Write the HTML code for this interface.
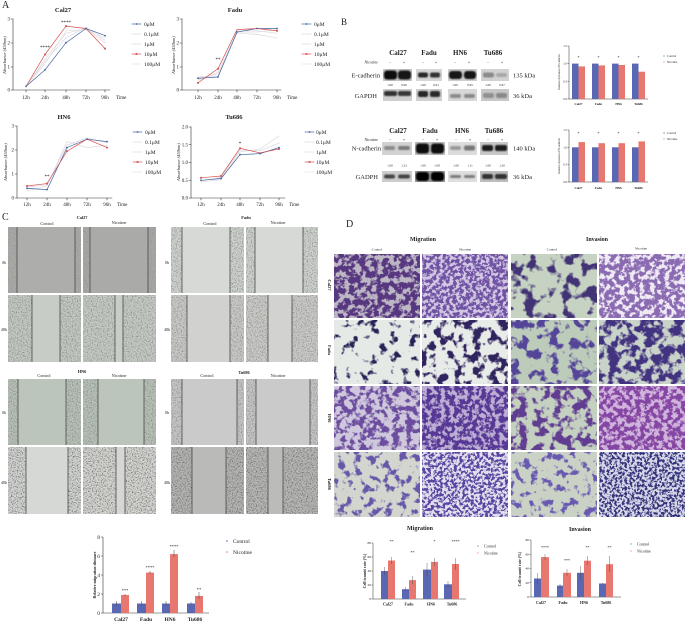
<!DOCTYPE html>
<html><head><meta charset="utf-8"><style>
html,body{margin:0;padding:0;background:#fff;}
svg{display:block;}
text{font-family:"Liberation Serif",serif;fill:#222;}
.b{font-weight:bold;}
</style></head><body>
<svg width="685" height="622" viewBox="0 0 685 622" xmlns="http://www.w3.org/2000/svg">
<defs>
<filter id="blur" x="-20%" y="-60%" width="140%" height="220%"><feGaussianBlur stdDeviation="0.7"/></filter>
<filter id="sp" x="0" y="0" width="1" height="1" color-interpolation-filters="sRGB">
 <feTurbulence type="fractalNoise" baseFrequency="0.8" numOctaves="1" seed="4"/>
 <feColorMatrix type="matrix" values="0 0 0 0 0.42 0 0 0 0 0.43 0 0 0 0 0.42 2 0 0 0 -0.9"/>
</filter>
<filter id="sp2" x="0" y="0" width="1" height="1" color-interpolation-filters="sRGB">
 <feTurbulence type="fractalNoise" baseFrequency="0.8" numOctaves="1" seed="7"/>
 <feColorMatrix type="matrix" values="0 0 0 0 0.38 0 0 0 0 0.39 0 0 0 0 0.38 3 0 0 0 -1.4"/>
</filter>
<filter id="d11" x="0" y="0" width="1" height="1" color-interpolation-filters="sRGB"><feTurbulence type="fractalNoise" baseFrequency="0.18" numOctaves="3" seed="11"/><feColorMatrix type="matrix" values="0 0 0 0 0.34 0 0 0 0 0.22 0 0 0 0 0.5 8 0 0 0 -3.28"/></filter>
<filter id="d12" x="0" y="0" width="1" height="1" color-interpolation-filters="sRGB"><feTurbulence type="fractalNoise" baseFrequency="0.3" numOctaves="3" seed="12"/><feColorMatrix type="matrix" values="0 0 0 0 0.44 0 0 0 0 0.32 0 0 0 0 0.64 8 0 0 0 -3.36"/></filter>
<filter id="d13" x="0" y="0" width="1" height="1" color-interpolation-filters="sRGB"><feTurbulence type="fractalNoise" baseFrequency="0.08" numOctaves="3" seed="13"/><feColorMatrix type="matrix" values="0 0 0 0 0.26 0 0 0 0 0.2 0 0 0 0 0.46 8 0 0 0 -4.16"/></filter>
<filter id="d14" x="0" y="0" width="1" height="1" color-interpolation-filters="sRGB"><feTurbulence type="fractalNoise" baseFrequency="0.2" numOctaves="3" seed="14"/><feColorMatrix type="matrix" values="0 0 0 0 0.54 0 0 0 0 0.42 0 0 0 0 0.7 8 0 0 0 -3.2"/></filter>
<filter id="d21" x="0" y="0" width="1" height="1" color-interpolation-filters="sRGB"><feTurbulence type="fractalNoise" baseFrequency="0.1" numOctaves="3" seed="21"/><feColorMatrix type="matrix" values="0 0 0 0 0.15 0 0 0 0 0.14 0 0 0 0 0.34 8 0 0 0 -4.64"/></filter>
<filter id="d22" x="0" y="0" width="1" height="1" color-interpolation-filters="sRGB"><feTurbulence type="fractalNoise" baseFrequency="0.11" numOctaves="3" seed="22"/><feColorMatrix type="matrix" values="0 0 0 0 0.19 0 0 0 0 0.14 0 0 0 0 0.37 8 0 0 0 -4.0"/></filter>
<filter id="d23" x="0" y="0" width="1" height="1" color-interpolation-filters="sRGB"><feTurbulence type="fractalNoise" baseFrequency="0.1" numOctaves="3" seed="23"/><feColorMatrix type="matrix" values="0 0 0 0 0.33 0 0 0 0 0.27 0 0 0 0 0.6 8 0 0 0 -4.16"/></filter>
<filter id="d24" x="0" y="0" width="1" height="1" color-interpolation-filters="sRGB"><feTurbulence type="fractalNoise" baseFrequency="0.11" numOctaves="3" seed="24"/><feColorMatrix type="matrix" values="0 0 0 0 0.26 0 0 0 0 0.2 0 0 0 0 0.5 8 0 0 0 -3.52"/></filter>
<filter id="d31" x="0" y="0" width="1" height="1" color-interpolation-filters="sRGB"><feTurbulence type="fractalNoise" baseFrequency="0.15" numOctaves="3" seed="31"/><feColorMatrix type="matrix" values="0 0 0 0 0.42 0 0 0 0 0.3 0 0 0 0 0.62 8 0 0 0 -3.68"/></filter>
<filter id="d32" x="0" y="0" width="1" height="1" color-interpolation-filters="sRGB"><feTurbulence type="fractalNoise" baseFrequency="0.22" numOctaves="3" seed="32"/><feColorMatrix type="matrix" values="0 0 0 0 0.34 0 0 0 0 0.22 0 0 0 0 0.58 8 0 0 0 -3.36"/></filter>
<filter id="d33" x="0" y="0" width="1" height="1" color-interpolation-filters="sRGB"><feTurbulence type="fractalNoise" baseFrequency="0.11" numOctaves="3" seed="33"/><feColorMatrix type="matrix" values="0 0 0 0 0.38 0 0 0 0 0.24 0 0 0 0 0.57 8 0 0 0 -3.84"/></filter>
<filter id="d34" x="0" y="0" width="1" height="1" color-interpolation-filters="sRGB"><feTurbulence type="fractalNoise" baseFrequency="0.22" numOctaves="3" seed="34"/><feColorMatrix type="matrix" values="0 0 0 0 0.52 0 0 0 0 0.27 0 0 0 0 0.64 8 0 0 0 -3.36"/></filter>
<filter id="d41" x="0" y="0" width="1" height="1" color-interpolation-filters="sRGB"><feTurbulence type="fractalNoise" baseFrequency="0.13" numOctaves="3" seed="41"/><feColorMatrix type="matrix" values="0 0 0 0 0.4 0 0 0 0 0.34 0 0 0 0 0.66 8 0 0 0 -4.32"/></filter>
<filter id="d42" x="0" y="0" width="1" height="1" color-interpolation-filters="sRGB"><feTurbulence type="fractalNoise" baseFrequency="0.35" numOctaves="3" seed="42"/><feColorMatrix type="matrix" values="0 0 0 0 0.34 0 0 0 0 0.27 0 0 0 0 0.63 8 0 0 0 -3.6"/></filter>
<filter id="d43" x="0" y="0" width="1" height="1" color-interpolation-filters="sRGB"><feTurbulence type="fractalNoise" baseFrequency="0.13" numOctaves="3" seed="43"/><feColorMatrix type="matrix" values="0 0 0 0 0.41 0 0 0 0 0.35 0 0 0 0 0.69 8 0 0 0 -4.4"/></filter>
<filter id="d44" x="0" y="0" width="1" height="1" color-interpolation-filters="sRGB"><feTurbulence type="fractalNoise" baseFrequency="0.4" numOctaves="3" seed="44"/><feColorMatrix type="matrix" values="0 0 0 0 0.2 0 0 0 0 0.2 0 0 0 0 0.48 8 0 0 0 -3.68"/></filter>
</defs>

<!-- ================= PANEL A ================= -->
<text x="2" y="8" font-size="10">A</text>
<g font-size="5" stroke-linecap="square">
<!-- Cal27 -->
<text x="63" y="12" class="b" font-size="6.5" text-anchor="middle">Cal27</text>
<g stroke="#333" stroke-width="0.6" fill="none">
<path d="M13 19V90H110"/><path d="M11 19H13M11 43H13M11 67H13M11 90H13"/>
<path d="M26 90V92M45 90V92M66 90V92M86 90V92M105 90V92"/>
</g>
<g text-anchor="end"><text x="10" y="20.7">3</text><text x="10" y="44.7">2</text><text x="10" y="68.7">1</text><text x="10" y="91.7">0</text></g>
<g text-anchor="middle"><text x="26" y="99">12h</text><text x="45" y="99">24h</text><text x="66" y="99">48h</text><text x="86" y="99">72h</text><text x="105" y="99">96h</text></g>
<text x="116" y="99">Time</text>
<text transform="translate(6,55) rotate(-90)" text-anchor="middle" font-size="4.5" font-style="italic">Absorbance (450nm)</text>
<g fill="none" stroke-width="0.7">
<polyline points="26,86.4 45,61.6 66,37.9 86,27.3 105,40.3" stroke="#d6dae8"/>
<polyline points="26,86.4 45,59.2 66,33.2 86,28.5 105,42.7" stroke="#dcdcdc"/>
<polyline points="26,86.4 45,64 66,30.8 86,29.6 105,37.9" stroke="#ecdede"/>
<polyline points="26,86.4 45,69.9 66,42.7 86,28.5 105,35.6" stroke="#44649f"/>
<polyline points="26,86.4 45,54.5 66,26.1 86,28.5 105,48.6" stroke="#d6514f"/>
</g>
<g fill="#44649f"><circle cx="26" cy="86.4" r="0.9"/><circle cx="45" cy="69.9" r="0.9"/><circle cx="66" cy="42.7" r="0.9"/><circle cx="86" cy="28.5" r="0.9"/><circle cx="105" cy="35.6" r="0.9"/></g>
<g fill="#d6514f"><rect x="44.1" y="53.6" width="1.8" height="1.8"/><rect x="65.1" y="25.2" width="1.8" height="1.8"/><rect x="104.1" y="47.7" width="1.8" height="1.8"/></g>
<text x="45" y="49" text-anchor="middle" font-size="5">****</text>
<text x="66" y="24" text-anchor="middle" font-size="5">****</text>
<g stroke-width="0.7"><path d="M132 24H141" stroke="#44649f"/><path d="M132 34H141" stroke="#d6dae8"/><path d="M132 44H141" stroke="#dcdcdc"/><path d="M132 54H141" stroke="#d6514f"/><path d="M132 64H141" stroke="#ecdede"/></g>
<circle cx="136.5" cy="24" r="0.9" fill="#44649f"/><rect x="135.6" y="53.1" width="1.8" height="1.8" fill="#d6514f"/>
<g font-size="5.5"><text x="144" y="25.8">0μM</text><text x="144" y="35.8">0.1μM</text><text x="144" y="45.8">1μM</text><text x="144" y="55.8">10μM</text><text x="144" y="65.8">100μM</text></g>

<!-- Fadu -->
<text x="235" y="12" class="b" font-size="6.5" text-anchor="middle">Fadu</text>
<g stroke="#333" stroke-width="0.6" fill="none">
<path d="M182 19V90H281"/><path d="M180 19H182M180 43H182M180 67H182M180 90H182"/>
<path d="M198 90V92M218 90V92M237 90V92M257 90V92M277 90V92"/>
</g>
<g text-anchor="end"><text x="179" y="20.7">3</text><text x="179" y="44.7">2</text><text x="179" y="68.7">1</text><text x="179" y="91.7">0</text></g>
<g text-anchor="middle"><text x="198" y="99">12h</text><text x="218" y="99">24h</text><text x="237" y="99">48h</text><text x="257" y="99">72h</text><text x="277" y="99">96h</text></g>
<text x="287" y="99">Time</text>
<text transform="translate(175,55) rotate(-90)" text-anchor="middle" font-size="4.5" font-style="italic">Absorbance (450nm)</text>
<g fill="none" stroke-width="0.7">
<polyline points="198,79.3 218,73.4 237,33.2 257,34.4 277,37.9" stroke="#dcdcdc"/>
<polyline points="198,77 218,75.8 237,30.8 257,30.8 277,33.2" stroke="#d6dae8"/>
<polyline points="198,80.5 218,72.2 237,32 257,32 277,29.6" stroke="#ecdede"/>
<polyline points="198,78.2 218,77 237,32 257,28.5 277,28.5" stroke="#44649f"/>
<polyline points="198,82.9 218,68.7 237,29.6 257,28.5 277,30.8" stroke="#d6514f"/>
</g>
<g fill="#44649f"><circle cx="198" cy="78.2" r="0.9"/><circle cx="218" cy="77" r="0.9"/><circle cx="237" cy="32" r="0.9"/><circle cx="257" cy="28.5" r="0.9"/><circle cx="277" cy="28.5" r="0.9"/></g>
<g fill="#d6514f"><rect x="197.1" y="82" width="1.8" height="1.8"/><rect x="217.1" y="67.8" width="1.8" height="1.8"/><rect x="276.1" y="29.9" width="1.8" height="1.8"/></g>
<text x="218" y="61" text-anchor="middle">**</text>
<g stroke-width="0.7"><path d="M302 24H311" stroke="#44649f"/><path d="M302 34H311" stroke="#d6dae8"/><path d="M302 44H311" stroke="#dcdcdc"/><path d="M302 54H311" stroke="#d6514f"/><path d="M302 64H311" stroke="#ecdede"/></g>
<circle cx="306.5" cy="24" r="0.9" fill="#44649f"/><rect x="305.6" y="53.1" width="1.8" height="1.8" fill="#d6514f"/>
<g font-size="5.5"><text x="314" y="25.8">0μM</text><text x="314" y="35.8">0.1μM</text><text x="314" y="45.8">1μM</text><text x="314" y="55.8">10μM</text><text x="314" y="65.8">100μM</text></g>

<!-- HN6 -->
<text x="64" y="119" class="b" font-size="6.5" text-anchor="middle">HN6</text>
<g stroke="#333" stroke-width="0.6" fill="none">
<path d="M17 126V198H112"/><path d="M15 126H17M15 150H17M15 174H17M15 198H17"/>
<path d="M27 198V200M47 198V200M67 198V200M87 198V200M107 198V200"/>
</g>
<g text-anchor="end"><text x="14" y="127.7">3</text><text x="14" y="151.7">2</text><text x="14" y="175.7">1</text><text x="14" y="199.7">0</text></g>
<g text-anchor="middle"><text x="27" y="206">12h</text><text x="47" y="206">24h</text><text x="67" y="206">48h</text><text x="87" y="206">72h</text><text x="107" y="206">96h</text></g>
<text x="117" y="206">Time</text>
<text transform="translate(7,162) rotate(-90)" text-anchor="middle" font-size="4.5" font-style="italic">Absorbance (450nm)</text>
<g fill="none" stroke-width="0.7">
<polyline points="27,190.8 47,186 67,141.6 87,147.6 107,145.2" stroke="#dcdcdc"/>
<polyline points="27,187.2 47,184.8 67,145.2 87,138 107,142.8" stroke="#d6dae8"/>
<polyline points="27,188.4 47,189.6 67,147.6 87,139.2 107,141.6" stroke="#44649f"/>
<polyline points="27,186 47,183.6 67,151.2 87,139.2 107,147.6" stroke="#d6514f"/>
</g>
<g fill="#44649f"><circle cx="27" cy="188.4" r="0.9"/><circle cx="47" cy="189.6" r="0.9"/><circle cx="67" cy="147.6" r="0.9"/><circle cx="87" cy="139.2" r="0.9"/><circle cx="107" cy="141.6" r="0.9"/></g>
<g fill="#d6514f"><rect x="26.1" y="185.1" width="1.8" height="1.8"/><rect x="46.1" y="182.7" width="1.8" height="1.8"/><rect x="66.1" y="150.3" width="1.8" height="1.8"/><rect x="106.1" y="146.7" width="1.8" height="1.8"/></g>
<text x="47" y="178" text-anchor="middle">**</text>
<g stroke-width="0.7"><path d="M133 132H142" stroke="#44649f"/><path d="M133 142H142" stroke="#d6dae8"/><path d="M133 152H142" stroke="#dcdcdc"/><path d="M133 162H142" stroke="#d6514f"/><path d="M133 172H142" stroke="#ecdede"/></g>
<circle cx="137.5" cy="132" r="0.9" fill="#44649f"/><rect x="136.6" y="161.1" width="1.8" height="1.8" fill="#d6514f"/>
<g font-size="5.5"><text x="145" y="133.8">0μM</text><text x="145" y="143.8">0.1μM</text><text x="145" y="153.8">1μM</text><text x="145" y="163.8">10μM</text><text x="145" y="173.8">100μM</text></g>

<!-- Tu686 -->
<text x="234" y="119" class="b" font-size="6.5" text-anchor="middle">Tu686</text>
<g stroke="#333" stroke-width="0.6" fill="none">
<path d="M191 127V198H285"/><path d="M189 127H191M189 144.75H191M189 162.5H191M189 180.25H191M189 198H191"/>
<path d="M201 198V200M221 198V200M240 198V200M260 198V200M279 198V200"/>
</g>
<g text-anchor="end"><text x="188" y="128.7">2.0</text><text x="188" y="146.4">1.5</text><text x="188" y="164.2">1.0</text><text x="188" y="182">0.5</text><text x="188" y="199.7">0.0</text></g>
<g text-anchor="middle"><text x="201" y="206">12h</text><text x="221" y="206">24h</text><text x="240" y="206">48h</text><text x="260" y="206">72h</text><text x="279" y="206">96h</text></g>
<text x="289" y="206">Time</text>
<text transform="translate(180,162) rotate(-90)" text-anchor="middle" font-size="4.5" font-style="italic">Absorbance (450nm)</text>
<g fill="none" stroke-width="0.7">
<polyline points="201,182 221,179.5 240,151.9 260,149 279,135.9" stroke="#dcdcdc"/>
<polyline points="201,181 221,177.4 240,150 260,150.8 279,143" stroke="#d6dae8"/>
<polyline points="201,180.3 221,178.5 240,154.7 260,153.6 279,147.6" stroke="#44649f"/>
<polyline points="201,177.8 221,176 240,148.3 260,152.9 279,149" stroke="#d6514f"/>
</g>
<g fill="#44649f"><circle cx="201" cy="180.3" r="0.9"/><circle cx="221" cy="178.5" r="0.9"/><circle cx="240" cy="154.7" r="0.9"/><circle cx="260" cy="153.6" r="0.9"/><circle cx="279" cy="147.6" r="0.9"/></g>
<g fill="#d6514f"><rect x="200.1" y="176.9" width="1.8" height="1.8"/><rect x="220.1" y="175.1" width="1.8" height="1.8"/><rect x="239.1" y="147.4" width="1.8" height="1.8"/><rect x="278.1" y="148.1" width="1.8" height="1.8"/></g>
<text x="240" y="145" text-anchor="middle">*</text>
<g stroke-width="0.7"><path d="M305 132H314" stroke="#44649f"/><path d="M305 142H314" stroke="#d6dae8"/><path d="M305 152H314" stroke="#dcdcdc"/><path d="M305 162H314" stroke="#d6514f"/><path d="M305 172H314" stroke="#ecdede"/></g>
<circle cx="309.5" cy="132" r="0.9" fill="#44649f"/><rect x="308.6" y="161.1" width="1.8" height="1.8" fill="#d6514f"/>
<g font-size="5.5"><text x="316" y="133.8">0μM</text><text x="316" y="143.8">0.1μM</text><text x="316" y="153.8">1μM</text><text x="316" y="163.8">10μM</text><text x="316" y="173.8">100μM</text></g>
</g>

<!-- ================= PANEL B ================= -->
<text x="341" y="25" font-size="9">B</text>
<g class="b" font-size="7" text-anchor="middle">
<text x="398" y="55">Cal27</text><text x="429" y="55">Fadu</text><text x="460" y="55">HN6</text><text x="493" y="55">Tu686</text>
<text x="398" y="133">Cal27</text><text x="430" y="133">Fadu</text><text x="462" y="133">HN6</text><text x="494" y="133">Tu686</text>
</g>
<g font-size="4" font-style="italic" text-anchor="end"><text x="378" y="63.5">Nicotine</text><text x="378" y="141">Nicotine</text></g>
<g font-size="4.5" text-anchor="middle">
<text x="390" y="63.5">-</text><text x="404" y="63.5">+</text><text x="423" y="63.5">-</text><text x="436" y="63.5">+</text><text x="455" y="63.5">-</text><text x="469" y="63.5">+</text><text x="488" y="63.5">-</text><text x="502" y="63.5">+</text>
<text x="390" y="141">-</text><text x="404" y="141">+</text><text x="423" y="141">-</text><text x="437" y="141">+</text><text x="456" y="141">-</text><text x="470" y="141">+</text><text x="488" y="141">-</text><text x="502" y="141">+</text>
</g>
<g font-size="6.5">
<text x="380" y="77.5" text-anchor="end">E-cadherin</text><text x="377" y="98" text-anchor="end">GAPDH</text>
<text x="513" y="77.5">135 kDa</text><text x="513" y="98">36 kDa</text>
<text x="381" y="150.5" text-anchor="end">N-cadherin</text><text x="378" y="179" text-anchor="end">GADPH</text>
<text x="513" y="150.5">140 kDa</text><text x="513" y="179">36 kDa</text>
</g>
<!-- E-cadherin blots -->
<rect x="383" y="69" width="29" height="12" fill="#c6c6c6"/>
<rect x="416" y="69" width="26" height="12" fill="#d6d6d6"/>
<rect x="448" y="69" width="29" height="12" fill="#cfcfcf"/>
<rect x="481" y="69" width="28" height="12" fill="#d2d2d2"/>
<g filter="url(#blur)">
<rect x="384" y="70.5" width="13" height="9" rx="3" fill="#0e0e0e"/><rect x="398" y="70.5" width="13" height="9" rx="3" fill="#121212"/>
<rect x="418" y="72.5" width="10" height="5" rx="2" fill="#282828"/><rect x="430" y="72.5" width="10" height="5" rx="2" fill="#303030"/>
<rect x="449" y="71" width="13" height="8" rx="3" fill="#141414"/><rect x="464" y="71" width="12" height="8" rx="3" fill="#181818"/>
<rect x="483" y="72.5" width="11" height="5" rx="2" fill="#8a8a8a"/><rect x="496" y="73" width="11" height="4" rx="2" fill="#a8a8a8"/>
</g>
<g font-size="3.2" text-anchor="middle">
<text x="390" y="86">1.00</text><text x="404" y="86">0.96</text><text x="423" y="86">1.00</text><text x="436" y="86">0.91</text><text x="455" y="86">1.00</text><text x="470" y="86">0.95</text><text x="488" y="86">1.00</text><text x="502" y="86">0.67</text>
<text x="390" y="166.5">1.00</text><text x="404" y="166.5">1.23</text><text x="423" y="166.5">1.00</text><text x="437" y="166.5">1.09</text><text x="456" y="166.5">1.00</text><text x="470" y="166.5">1.11</text><text x="488" y="166.5">1.00</text><text x="502" y="166.5">1.20</text>
</g>
<!-- GAPDH E -->
<rect x="383" y="89" width="29" height="12" fill="#cfcfcf"/>
<rect x="416" y="89" width="26" height="12" fill="#d0d0d0"/>
<rect x="448" y="89" width="29" height="12" fill="#d8d8d8"/>
<rect x="481" y="89" width="28" height="12" fill="#c8c8c8"/>
<g filter="url(#blur)">
<rect x="384" y="91" width="13" height="5" rx="2" fill="#333"/><rect x="398" y="91" width="13" height="5" rx="2" fill="#383838"/>
<rect x="418" y="91" width="10" height="6" rx="2" fill="#262626"/><rect x="430" y="91" width="10" height="6" rx="2" fill="#2a2a2a"/>
<rect x="450" y="94" width="11" height="4" rx="2" fill="#8a8a8a"/><rect x="464" y="94" width="11" height="4" rx="2" fill="#888"/>
<rect x="483" y="93" width="11" height="5" rx="2" fill="#909090"/><rect x="496" y="93" width="11" height="5" rx="2" fill="#888"/>
</g>
<!-- N-cadherin blots -->
<rect x="382" y="142" width="30" height="13" fill="#d2d2d2"/>
<rect x="415" y="142" width="30" height="13" fill="#bdbdbd"/>
<rect x="448" y="142" width="29" height="13" fill="#dcdcdc"/>
<rect x="480" y="142" width="28" height="13" fill="#c8c8c8"/>
<g filter="url(#blur)">
<rect x="384" y="146" width="11" height="4" rx="2" fill="#8a8a8a"/><rect x="398" y="146" width="12" height="4" rx="2" fill="#7a7a7a"/>
<rect x="416" y="143.5" width="13" height="10" rx="3" fill="#080808"/><rect x="431" y="143.5" width="13" height="10" rx="3" fill="#0a0a0a"/>
<rect x="450" y="146" width="11" height="4" rx="2" fill="#9a9a9a"/><rect x="464" y="145.5" width="11" height="5" rx="2" fill="#787878"/>
<rect x="482" y="145" width="11" height="6" rx="2" fill="#1a1a1a"/><rect x="495" y="145" width="12" height="6" rx="2" fill="#1c1c1c"/>
</g>
<!-- GADPH N -->
<rect x="382" y="171" width="30" height="11" fill="#cccccc"/>
<rect x="415" y="171" width="30" height="11" fill="#999"/>
<rect x="448" y="171" width="29" height="11" fill="#dedede"/>
<rect x="480" y="171" width="28" height="11" fill="#bdbdbd"/>
<g filter="url(#blur)">
<rect x="384" y="174.5" width="11" height="4" rx="2" fill="#444"/><rect x="398" y="174.5" width="12" height="4" rx="2" fill="#444"/>
<rect x="416" y="172" width="13" height="9" rx="3" fill="#050505"/><rect x="431" y="172" width="13" height="9" rx="3" fill="#060606"/>
<rect x="450" y="175" width="11" height="3" rx="1.5" fill="#7a7a7a"/><rect x="464" y="175" width="11" height="3" rx="1.5" fill="#7a7a7a"/>
<rect x="482" y="174" width="11" height="5" rx="2" fill="#333"/><rect x="495" y="174" width="12" height="5" rx="2" fill="#333"/>
</g>
<rect x="412" y="69" width="4" height="12" fill="#fff"/>

<!-- B bar charts -->
<g font-size="3">
<g stroke="#333" stroke-width="0.5" fill="none"><path d="M569 46V99H648"/><path d="M567.5 46H569M567.5 63.7H569M567.5 81.3H569M567.5 99H569"/></g>
<g text-anchor="end"><text x="567" y="47">1.5</text><text x="567" y="64.7">1.0</text><text x="567" y="82.3">0.5</text><text x="567" y="100">0.0</text></g>
<text transform="translate(560,72) rotate(-90)" text-anchor="middle" font-size="2.6">Relative expression of E-cadherin</text>
<g fill="#5a67b2"><rect x="572" y="63.6" width="6.5" height="35.4"/><rect x="592" y="63.6" width="6.5" height="35.4"/><rect x="612" y="63.6" width="6.5" height="35.4"/><rect x="632" y="63.6" width="6.5" height="35.4"/></g>
<g fill="#e8776f"><rect x="578.5" y="66.4" width="6.5" height="32.6"/><rect x="598.5" y="65.4" width="6.5" height="33.6"/><rect x="618.5" y="65" width="6.5" height="34"/><rect x="638.5" y="71.7" width="6.5" height="27.3"/></g>
<g text-anchor="middle" font-size="4"><text x="578.5" y="59">*</text><text x="598.5" y="59">*</text><text x="618.5" y="59">*</text><text x="638.5" y="59">*</text></g>
<g text-anchor="middle" class="b" font-size="3.2"><text x="578.5" y="105">Cal27</text><text x="598.5" y="105">Fadu</text><text x="618.5" y="105">HN6</text><text x="638.5" y="105">Tu686</text></g>
<circle cx="664" cy="56" r="0.6" fill="#5a67b2"/><circle cx="664" cy="62" r="0.6" fill="#e8776f"/>
<text x="667" y="57">Control</text><text x="667" y="63">Nicotine</text>

<g stroke="#333" stroke-width="0.5" fill="none"><path d="M569 130V182H648"/><path d="M567.5 130H569M567.5 147.3H569M567.5 164.7H569M567.5 182H569"/></g>
<g text-anchor="end"><text x="567" y="131">1.5</text><text x="567" y="148.3">1.0</text><text x="567" y="165.7">0.5</text><text x="567" y="183">0.0</text></g>
<text transform="translate(560,156) rotate(-90)" text-anchor="middle" font-size="2.6">Relative expression of N-cadherin</text>
<g fill="#5a67b2"><rect x="572" y="147.3" width="6.5" height="34.7"/><rect x="592" y="147.3" width="6.5" height="34.7"/><rect x="612" y="147.3" width="6.5" height="34.7"/><rect x="632" y="147.3" width="6.5" height="34.7"/></g>
<g fill="#e8776f"><rect x="578.5" y="142.1" width="6.5" height="39.9"/><rect x="598.5" y="143.2" width="6.5" height="38.8"/><rect x="618.5" y="143.2" width="6.5" height="38.8"/><rect x="638.5" y="141.4" width="6.5" height="40.6"/></g>
<g text-anchor="middle" font-size="4"><text x="578.5" y="135">*</text><text x="598.5" y="135">*</text><text x="618.5" y="135">*</text><text x="638.5" y="135">*</text></g>
<g text-anchor="middle" class="b" font-size="3.2"><text x="578.5" y="189">Cal27</text><text x="598.5" y="189">Fadu</text><text x="618.5" y="189">HN6</text><text x="638.5" y="189">Tu686</text></g>
<circle cx="664" cy="133" r="0.6" fill="#5a67b2"/><circle cx="664" cy="139" r="0.6" fill="#e8776f"/>
<text x="667" y="134">Control</text><text x="667" y="140">Nicotine</text>
</g>

<!-- ================= PANEL C ================= -->
<text x="2" y="220" font-size="10">C</text>
<g font-size="4.3" text-anchor="middle">
<text x="82" y="219" class="b">Cal27</text><text x="47" y="225">Control</text><text x="119" y="224">Nicotine</text>
<text x="246" y="219" class="b">Fadu</text><text x="210" y="225">Control</text><text x="278" y="224">Nicotine</text>
<text x="82" y="373" class="b">HN6</text><text x="44" y="377">Control</text><text x="119" y="377">Nicotine</text>
<text x="244" y="374" class="b">Tu686</text><text x="207" y="377">Control</text><text x="278" y="377">Nicotine</text>
</g>
<g font-size="4">
<text x="2" y="264">0h</text><text x="1" y="331">48h</text>
<text x="165" y="264">0h</text><text x="164" y="331">48h</text>
<text x="2" y="414">0h</text><text x="1" y="484">48h</text>
<text x="165" y="414">0h</text><text x="164" y="484">48h</text>
</g>

<g stroke="#4a4a4a" stroke-width="0.8">
<!-- Cal27 0h -->
<rect x="8" y="227" width="73" height="66" fill="#a9aaa7" stroke="none"/><rect x="8" y="227" width="73" height="66" filter="url(#sp)" stroke="none" opacity="0.5"/><rect x="17" y="227" width="58" height="66" fill="#adaeab" stroke="none"/><path d="M17 227V293M75 227V293"/>
<rect x="83" y="227" width="73" height="66" fill="#a7a8a5" stroke="none"/><rect x="83" y="227" width="73" height="66" filter="url(#sp)" stroke="none" opacity="0.5"/><rect x="90" y="227" width="58" height="66" fill="#aaaba8" stroke="none"/><path d="M90 227V293M148 227V293"/>
<!-- Cal27 48h -->
<rect x="8" y="295" width="73" height="67" fill="#c3c8c2" stroke="none"/><rect x="8" y="295" width="73" height="67" filter="url(#sp)" stroke="none"/><rect x="32" y="295" width="28" height="67" fill="#c7ccc6" stroke="none"/><path d="M32 295V362M60 295V362"/>
<rect x="83" y="295" width="73" height="67" fill="#c5cac4" stroke="none"/><rect x="83" y="295" width="73" height="67" filter="url(#sp)" stroke="none"/><rect x="115" y="295" width="8" height="67" fill="#c8cdc7" stroke="none"/><path d="M115 295V362M123 295V362"/>
<!-- Fadu 0h -->
<rect x="171" y="227" width="73" height="66" fill="#ced2cd" stroke="none"/><rect x="171" y="227" width="73" height="66" filter="url(#sp)" stroke="none"/><rect x="182" y="227" width="48" height="66" fill="#d6d9d5" stroke="none"/><path d="M182 227V293M230 227V293"/>
<rect x="246" y="227" width="72" height="66" fill="#ced2cd" stroke="none"/><rect x="246" y="227" width="72" height="66" filter="url(#sp)" stroke="none"/><rect x="255" y="227" width="48" height="66" fill="#d6d9d5" stroke="none"/><path d="M255 227V293M303 227V293"/>
<!-- Fadu 48h -->
<rect x="171" y="295" width="73" height="67" fill="#c9cac6" stroke="none"/><rect x="171" y="295" width="73" height="67" filter="url(#sp)" stroke="none"/><rect x="187" y="295" width="43" height="67" fill="#d1d2cf" stroke="none"/><path d="M187 295V362M230 295V362"/>
<rect x="246" y="295" width="72" height="67" fill="#cacbc7" stroke="none"/><rect x="246" y="295" width="72" height="67" filter="url(#sp)" stroke="none"/><rect x="268" y="295" width="24" height="67" fill="#d2d3d0" stroke="none"/><path d="M268 295V362M292 295V362"/>
<!-- HN6 0h -->
<rect x="8" y="379" width="73" height="66" fill="#b8c1b8" stroke="none"/><rect x="8" y="379" width="73" height="66" filter="url(#sp)" stroke="none"/><rect x="18" y="379" width="48" height="66" fill="#bcc5bc" stroke="none"/><path d="M18 379V445M66 379V445"/>
<rect x="83" y="379" width="73" height="66" fill="#b8c1b8" stroke="none"/><rect x="83" y="379" width="73" height="66" filter="url(#sp)" stroke="none"/><rect x="98" y="379" width="46" height="66" fill="#bcc5bc" stroke="none"/><path d="M98 379V445M144 379V445"/>
<!-- HN6 48h -->
<rect x="8" y="447" width="73" height="67" fill="#d2d4d1" stroke="none"/><rect x="8" y="447" width="73" height="67" filter="url(#sp2)" stroke="none"/><rect x="26" y="447" width="42" height="67" fill="#d6d8d5" stroke="none"/><path d="M26 447V514M68 447V514"/>
<rect x="83" y="447" width="73" height="67" fill="#d4d5d1" stroke="none"/><rect x="83" y="447" width="73" height="67" filter="url(#sp2)" stroke="none"/><rect x="116" y="447" width="9" height="67" fill="#d6d7d4" stroke="none"/><path d="M116 447V514M125 447V514"/>
<!-- Tu686 0h -->
<rect x="171" y="379" width="73" height="66" fill="#c5c6c5" stroke="none"/><rect x="171" y="379" width="73" height="66" filter="url(#sp)" stroke="none"/><rect x="182" y="379" width="55" height="66" fill="#c9cac9" stroke="none"/><path d="M182 379V445M237 379V445"/>
<rect x="246" y="379" width="72" height="66" fill="#c5c6c5" stroke="none"/><rect x="246" y="379" width="72" height="66" filter="url(#sp)" stroke="none"/><rect x="256" y="379" width="54" height="66" fill="#c9cac9" stroke="none"/><path d="M256 379V445M310 379V445"/>
<!-- Tu686 48h -->
<rect x="171" y="447" width="73" height="67" fill="#b4b5b3" stroke="none"/><rect x="171" y="447" width="73" height="67" filter="url(#sp2)" stroke="none"/><rect x="192" y="447" width="34" height="67" fill="#babbb9" stroke="none"/><path d="M192 447V514M226 447V514"/>
<rect x="246" y="447" width="72" height="67" fill="#b6b7b5" stroke="none"/><rect x="246" y="447" width="72" height="67" filter="url(#sp2)" stroke="none"/><rect x="268" y="447" width="15" height="67" fill="#bbbcba" stroke="none"/><path d="M268 447V514M283 447V514"/>
</g>

<!-- C bar chart -->
<g font-size="5.5">
<g stroke="#333" stroke-width="0.6" fill="none"><path d="M103 537V613H209"/><path d="M101 537H103M101 556H103M101 575H103M101 594H103M101 613H103"/></g>
<g text-anchor="end"><text x="100" y="539">8</text><text x="100" y="558">6</text><text x="100" y="577">4</text><text x="100" y="596">2</text><text x="100" y="615">0</text></g>
<text transform="translate(96,575) rotate(-90)" text-anchor="middle" font-size="4" class="b">Relative migration distance</text>
<g fill="#5a67b2"><rect x="112" y="603.5" width="9" height="9.5"/><rect x="137" y="603.5" width="9" height="9.5"/><rect x="162" y="603.5" width="8" height="9.5"/><rect x="187" y="603.5" width="8" height="9.5"/></g>
<g fill="#e8776f"><rect x="121" y="595" width="8" height="18"/><rect x="146" y="572.6" width="8" height="40.4"/><rect x="170" y="554.1" width="8" height="58.9"/><rect x="195" y="595.9" width="8" height="17.1"/></g>
<g stroke="#444" stroke-width="0.5"><path d="M116.5 601V606M125 594V596M141.5 601V606M150 571V574M166 601V606M174 550V557M191 602V605M199 592V599"/></g>
<g text-anchor="middle" font-size="4.5"><text x="125" y="592">***</text><text x="150" y="569">****</text><text x="174" y="548">****</text><text x="199" y="591">**</text></g>
<g text-anchor="middle" class="b" font-size="5.5"><text x="121" y="621">Cal27</text><text x="146" y="621">Fadu</text><text x="170" y="621">HN6</text><text x="195" y="621">Tu686</text></g>
<circle cx="227" cy="541" r="0.8" fill="#5a67b2"/><circle cx="227" cy="552" r="0.8" fill="#e8776f"/>
<text x="233" y="543">Control</text><text x="233" y="554">Nicotine</text>
</g>

<!-- ================= PANEL D ================= -->
<text x="346" y="227" font-size="10">D</text>
<g class="b" font-size="6" text-anchor="middle"><text x="423" y="241">Migration</text><text x="597" y="241">Invasion</text></g>
<g font-size="3.5" text-anchor="middle"><text x="377" y="250.5">Control</text><text x="465" y="250.5">Nicotine</text><text x="552" y="250.5">Control</text><text x="641" y="249.5">Nicotine</text></g>
<g class="b" font-size="4.5" text-anchor="middle">
<text transform="translate(328,285) rotate(90)">Cal27</text>
<text transform="translate(328,350) rotate(90)">Fadu</text>
<text transform="translate(328,418) rotate(90)">HN6</text>
<text transform="translate(328,484) rotate(90)">Tu686</text>
</g>
<!-- row 1 -->
<rect x="334" y="254" width="86" height="64" fill="#bdb6c4"/><rect x="334" y="254" width="86" height="64" filter="url(#d11)"/>
<rect x="422" y="254" width="86" height="64" fill="#d2c8e4"/><rect x="422" y="254" width="86" height="64" filter="url(#d12)"/>
<rect x="511" y="254" width="86" height="64" fill="#c6d2c2"/><rect x="511" y="254" width="86" height="64" filter="url(#d13)"/>
<rect x="599" y="254" width="86" height="64" fill="#f0eaf4"/><rect x="599" y="254" width="86" height="64" filter="url(#d14)"/>
<!-- row 2 -->
<rect x="334" y="320" width="86" height="64" fill="#e6eae6"/><rect x="334" y="320" width="86" height="64" filter="url(#d21)"/>
<rect x="422" y="320" width="86" height="64" fill="#e8ece8"/><rect x="422" y="320" width="86" height="64" filter="url(#d22)"/>
<rect x="511" y="320" width="86" height="64" fill="#bccbba"/><rect x="511" y="320" width="86" height="64" filter="url(#d23)"/>
<rect x="599" y="320" width="86" height="64" fill="#c9d3c9"/><rect x="599" y="320" width="86" height="64" filter="url(#d24)"/>
<!-- row 3 -->
<rect x="334" y="386" width="86" height="64" fill="#cfc8dc"/><rect x="334" y="386" width="86" height="64" filter="url(#d31)"/>
<rect x="422" y="386" width="86" height="64" fill="#bcaed4"/><rect x="422" y="386" width="86" height="64" filter="url(#d32)"/>
<rect x="511" y="386" width="86" height="64" fill="#c4d0c0"/><rect x="511" y="386" width="86" height="64" filter="url(#d33)"/>
<rect x="599" y="386" width="86" height="64" fill="#d0b4dc"/><rect x="599" y="386" width="86" height="64" filter="url(#d34)"/>
<!-- row 4 -->
<rect x="334" y="452" width="86" height="65" fill="#d2d6ce"/><rect x="334" y="452" width="86" height="65" filter="url(#d41)"/>
<rect x="422" y="452" width="86" height="65" fill="#e4e0ee"/><rect x="422" y="452" width="86" height="65" filter="url(#d42)"/>
<rect x="511" y="452" width="86" height="65" fill="#cad2c6"/><rect x="511" y="452" width="86" height="65" filter="url(#d43)"/>
<rect x="599" y="452" width="86" height="65" fill="#d8d8ea"/><rect x="599" y="452" width="86" height="65" filter="url(#d44)"/>

<!-- D bar charts -->
<g class="b" font-size="6" text-anchor="middle"><text x="420" y="530">Migration</text><text x="580" y="531">Invasion</text></g>
<g font-size="4">
<!-- Migration -->
<g stroke="#333" stroke-width="0.5" fill="none"><path d="M373 543V599H466"/><path d="M371.5 543H373M371.5 557H373M371.5 571H373M371.5 585H373M371.5 599H373"/></g>
<g text-anchor="end" font-size="3.5"><text x="371" y="544.2">80</text><text x="371" y="558.2">60</text><text x="371" y="572.2">40</text><text x="371" y="586.2">20</text><text x="371" y="600.2">0</text></g>
<text transform="translate(366,571) rotate(-90)" text-anchor="middle" font-size="4" class="b">Cell transit rate (%)</text>
<g fill="#5a67b2"><rect x="381" y="571" width="7" height="28"/><rect x="402" y="589.2" width="7" height="9.8"/><rect x="423" y="569.6" width="8" height="29.4"/><rect x="444" y="584.3" width="8" height="14.7"/></g>
<g fill="#e8776f"><rect x="388" y="560.5" width="7" height="38.5"/><rect x="409" y="580.1" width="7" height="18.9"/><rect x="431" y="561.9" width="7" height="37.1"/><rect x="452" y="564" width="7" height="35"/></g>
<g stroke="#444" stroke-width="0.4"><path d="M384.5 567V575M391.5 557V564M405.5 587V591M412.5 576V584M427 563V576M434.5 558V566M448 581V588M455.5 558V570"/></g>
<g text-anchor="middle" font-size="4"><text x="391.5" y="543">**</text><text x="412.5" y="554">**</text><text x="434.5" y="543">*</text><text x="455.5" y="543">****</text></g>
<g text-anchor="middle" class="b" font-size="4"><text x="388" y="605.5">Cal27</text><text x="409" y="605.5">Fadu</text><text x="431" y="605.5">HN6</text><text x="452" y="605.5">Tu686</text></g>
<circle cx="478" cy="546" r="0.6" fill="#5a67b2"/><circle cx="478" cy="553" r="0.6" fill="#e8776f"/>
<text x="484" y="547.5">Control</text><text x="484" y="554.5">Nicotine</text>
<!-- Invasion -->
<g stroke="#333" stroke-width="0.5" fill="none"><path d="M531 540V597H621"/><path d="M529.5 540H531M529.5 554.25H531M529.5 568.5H531M529.5 582.75H531M529.5 597H531"/></g>
<g text-anchor="end" font-size="3.5"><text x="529" y="541.2">80</text><text x="529" y="555.4">60</text><text x="529" y="569.7">40</text><text x="529" y="584">20</text><text x="529" y="598.2">0</text></g>
<text transform="translate(521,569) rotate(-90)" text-anchor="middle" font-size="4" class="b">Cell transit rate (%)</text>
<g fill="#5a67b2"><rect x="534" y="578.5" width="7" height="18.5"/><rect x="557" y="585.6" width="6" height="11.4"/><rect x="577" y="572.8" width="7" height="24.2"/><rect x="599" y="583.5" width="7" height="13.5"/></g>
<g fill="#e8776f"><rect x="541" y="557.1" width="8" height="39.9"/><rect x="563" y="572.8" width="8" height="24.2"/><rect x="584" y="560.7" width="7" height="36.3"/><rect x="606" y="564.2" width="7" height="32.8"/></g>
<g stroke="#444" stroke-width="0.4"><path d="M537.5 573V584M545 554V560M560 584V588M567 569V576M580.5 566V580M587.5 556V565M602.5 583V584.5M609.5 556V572"/></g>
<g text-anchor="middle" font-size="4"><text x="545" y="549">****</text><text x="567" y="562">***</text><text x="587.5" y="549">**</text><text x="609.5" y="549">**</text></g>
<g text-anchor="middle" class="b" font-size="4"><text x="541" y="604">Cal27</text><text x="563" y="604">Fadu</text><text x="584" y="604">HN6</text><text x="606" y="604">Tu686</text></g>
<circle cx="631" cy="544" r="0.6" fill="#5a67b2"/><circle cx="631" cy="551" r="0.6" fill="#e8776f"/>
<text x="637" y="545.5">Control</text><text x="637" y="552.5">Nicotine</text>
</g>
</svg>
</body></html>
